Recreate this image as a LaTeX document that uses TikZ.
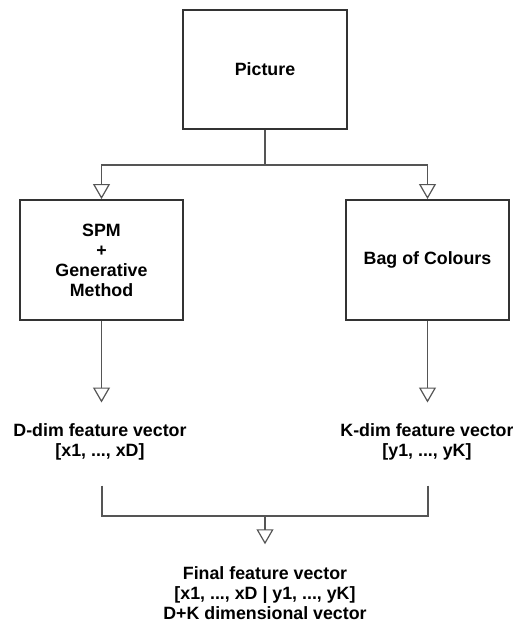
\documentclass[tikz,border=0pt]{standalone}
\usepackage{fontspec}
\setmainfont{Liberation Sans}
\usetikzlibrary{arrows.meta}
\definecolor{boxline}{HTML}{333333}
\definecolor{wirecol}{HTML}{555555}
\newcommand\dlabelfont{\fontsize{17.8}{20}\selectfont\bfseries}
\begin{document}
\begin{tikzpicture}[x=1pt,y=-1pt,
  box/.style={draw=boxline, line width=2pt, fill=white, minimum width=163pt,
    minimum height=120pt, align=center, font=\dlabelfont, inner sep=0pt},
  txt/.style={align=center, font=\dlabelfont, inner sep=0pt},
  wire/.style={draw=wirecol, line width=1.5pt},
  arr/.style={wire, -{Triangle[open, length=15pt, width=17pt, line width=1.2pt]}}]
\useasboundingbox (0,0) rectangle (512,624);

% processing boxes
\node[box, minimum width=164pt, minimum height=119pt] (pic) at (265,69.5) {Picture};
\node[box] (spm) at (101.5,260) {SPM\\+\\Generative\\Method};
\node[box] (boc) at (427.5,260) {Bag of Colours};

% feature vectors
\node[txt] (dvec) at (100,442) {D-dim feature vector\\{}[x1, ..., xD]};
\node[txt] (kvec) at (427,442) {K-dim feature vector\\{}[y1, ..., yK]};
\node[txt] (final) at (265,593) {Final feature vector\\{}[x1, ..., xD | y1, ..., yK]\\D+K dimensional vector};

% branching points
\coordinate (split) at (265,165);
\coordinate (join) at (265,516);

% connectors
\draw[wire] (pic.south) -- (split);
\draw[arr] (split) -| (spm.north);
\draw[arr] (split) -| (boc.north);
\draw[arr, shorten >=21pt] (spm.south) -- (spm.south |- dvec.north);
\draw[arr, shorten >=21pt] (boc.south) -- (boc.south |- kvec.north);
\draw[wire] ([shift={(2pt,-25pt)}]dvec.south) |- (join);
\draw[wire] ([shift={(1pt,-25pt)}]kvec.south) |- (join);
\draw[arr, shorten >=22pt] (join) -- (final.north);
\end{tikzpicture}
\end{document}
